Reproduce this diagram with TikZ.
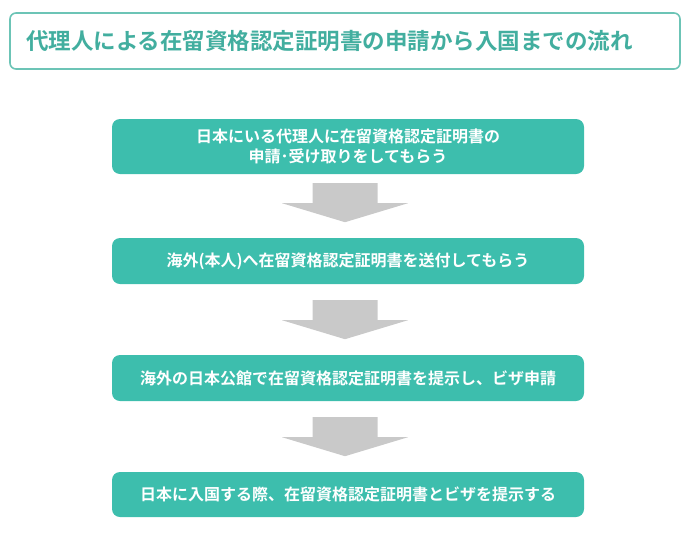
\documentclass[tikz,border=0pt]{standalone}
\usepackage{fontspec}
\setmainfont{Noto Sans CJK JP}[BoldFont={Noto Sans CJK JP Bold}]
\definecolor{teal1}{HTML}{3DBEAD}
\definecolor{tealline}{HTML}{6CC4B6}
\definecolor{tealtext}{HTML}{42AE9F}
\definecolor{arrowgray}{HTML}{C9C9C9}
\tikzset{
  titlebox/.style={draw=tealline, line width=1.6pt, rounded corners=6pt, fill=white,
    minimum width=670pt, minimum height=56pt, inner xsep=16pt, inner ysep=0pt,
    text width=638pt, align=left, text=tealtext,
    font=\bfseries\fontsize{22.5}{26}\selectfont},
  stepbox/.style={fill=teal1, rounded corners=8pt, minimum width=472pt,
    inner sep=0pt, text=white, align=center,
    font=\bfseries\fontsize{16}{20}\selectfont},
  blockarrow/.style={fill=arrowgray}
}
\newcommand{\downarrowblock}[1]{%
  \fill[blockarrow] ($(#1)+(-32.5,0)$) -- ($(#1)+(32.5,0)$) -- ($(#1)+(32.5,20)$)
    -- ($(#1)+(63,20)$) -- ($(#1)+(0,39)$) -- ($(#1)+(-63,20)$)
    -- ($(#1)+(-32.5,20)$) -- cycle;}
\usetikzlibrary{calc}
\begin{document}
\begin{tikzpicture}[x=1pt,y=-1pt]
\useasboundingbox (0,0) rectangle (692,533);
\node[titlebox] (title) at (345,41) {代理人による在留資格認定証明書の申請から入国までの流れ};
\node[stepbox, minimum height=55pt] (s1) at (348,146.5) {日本にいる代理人に在留資格認定証明書の\\申請･受け取りをしてもらう};
\node[stepbox, minimum height=46pt] (s2) at (348,261) {海外(本人)へ在留資格認定証明書を送付してもらう};
\node[stepbox, minimum height=46pt] (s3) at (348,378) {海外の日本公館で在留資格認定証明書を提示し、ビザ申請};
\node[stepbox, minimum height=45pt] (s4) at (348,494.5) {日本に入国する際、在留資格認定証明書とビザを提示する};
\coordinate (a1) at ($(s1.south)+(-3,9)$);
\coordinate (a2) at ($(s2.south)+(-3,16)$);
\coordinate (a3) at ($(s3.south)+(-3,16)$);
\downarrowblock{a1}
\downarrowblock{a2}
\downarrowblock{a3}
\end{tikzpicture}
\end{document}
